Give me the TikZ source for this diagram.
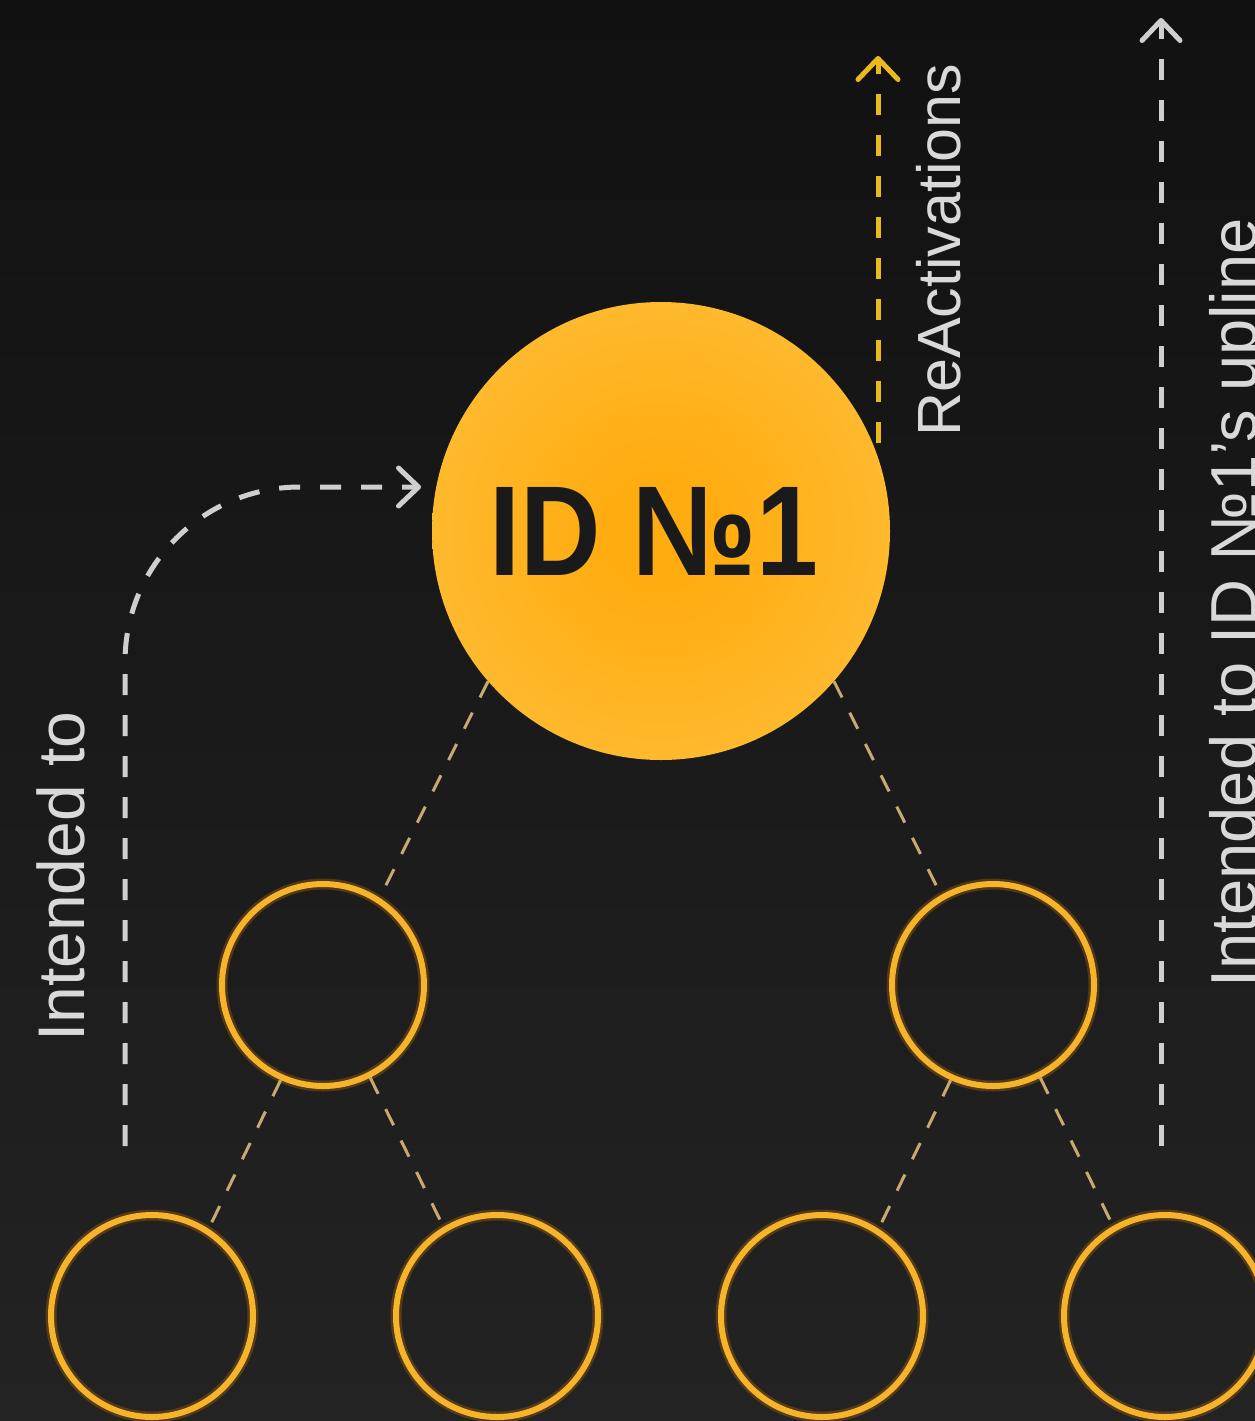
\documentclass[tikz,border=0pt]{standalone}
\usepackage{fontspec}
\setmainfont{Liberation Sans}
\usetikzlibrary{arrows.meta}
\definecolor{bgtop}{HTML}{111111}
\definecolor{bgbot}{HTML}{232323}
\definecolor{wline}{HTML}{CFCFCF}
\definecolor{labtxt}{HTML}{D9D9D9}
\definecolor{yarrow}{HTML}{E8BA1E}
\definecolor{ring}{HTML}{F5B42A}
\definecolor{ringglow}{HTML}{B86A08}
\definecolor{tline}{HTML}{C8AA6E}
\definecolor{ballC}{HTML}{FFAC10}
\definecolor{ballE}{HTML}{FFCA52}
\definecolor{idtxt}{HTML}{1A1A1A}
\pgfdeclareradialshading{idball}{\pgfpoint{0bp}{0bp}}{color(0bp)=(ballC); color(6bp)=(ballC); color(50bp)=(ballE); color(72bp)=(ballE)}
\tikzset{
  ringnode/.style={circle, draw=ring, line width=6pt, minimum size=202pt, inner sep=0pt,
    preaction={draw=ringglow, line width=11pt, opacity=0.35}},
  treeline/.style={draw=tline, line width=3pt, dash pattern=on 18pt off 17pt},
  whitearrow/.style={draw=wline, line width=5pt, dash pattern=on 21pt off 20pt,
    -{Straight Barb[length=20pt,width=38pt,line width=5pt,round]}},
  yellowarrow/.style={draw=yarrow, line width=5pt, dash pattern=on 21pt off 20pt,
    -{Straight Barb[length=21pt,width=40pt,line width=5pt,round]}},
  sidelabel/.style={rotate=90, anchor=base west, inner sep=0pt, text=labtxt}
}
\begin{document}
\begin{tikzpicture}[x=1pt,y=-1pt]
\useasboundingbox (0,0) rectangle (1255,1421);
\begin{scope}
\clip (0,0) rectangle (1255,1421);
\fill[top color=bgtop, bottom color=bgbot] (0,0) rectangle (1255,1421);

% main ball
\node[circle, minimum size=458pt, inner sep=0pt, shading=idball] (big) at (661,531) {};
\node[anchor=base, inner sep=0pt, text=idtxt] (idlabel) at (654,575)
  {\scalebox{0.87}[1]{\fontsize{128}{140}\selectfont\bfseries ID №1}};

% tree nodes
\node[ringnode] (l2a) at (323,985) {};
\node[ringnode] (l2b) at (993,985) {};
\node[ringnode] (l3a) at (152,1316) {};
\node[ringnode] (l3b) at (497,1316) {};
\node[ringnode] (l3c) at (822,1316) {};
\node[ringnode] (l3d) at (1165,1316) {};

% tree connectors
\draw[treeline] (big.221) -- (l2a.57);
\draw[treeline] (big.319) -- (l2b.120);
\draw[treeline] (l2a.246) -- (l3a.57);
\draw[treeline] (l2a.297) -- (l3b.121);
\draw[treeline] (l2b.246) -- (l3c.57);
\draw[treeline] (l2b.297) -- (l3d.120);

% left curved arrow
\coordinate (lstart) at (125,1146);
\coordinate (ltip) at (421,487);
\draw[whitearrow, rounded corners=175pt] (lstart) |- (ltip);

% ReActivations arrow
\coordinate (rastart) at (878,443);
\coordinate (ratip) at (878,56);
\draw[yellowarrow] (rastart) -- (ratip);

% right upline arrow
\coordinate (upstart) at (1161,1146);
\coordinate (uptip) at (1161,18);
\draw[whitearrow] (upstart) -- (uptip);

% labels
\node[sidelabel, font=\fontsize{66}{72}\selectfont] (lab1) at (84,1042) {Intended to};
\node[sidelabel, font=\fontsize{61}{70}\selectfont] (lab2) at (960,437) {ReActivations};
\node[sidelabel, font=\fontsize{65}{72}\selectfont] (lab3) at (1256,988) {Intended to ID №1’s upline};
\end{scope}
\end{tikzpicture}
\end{document}
